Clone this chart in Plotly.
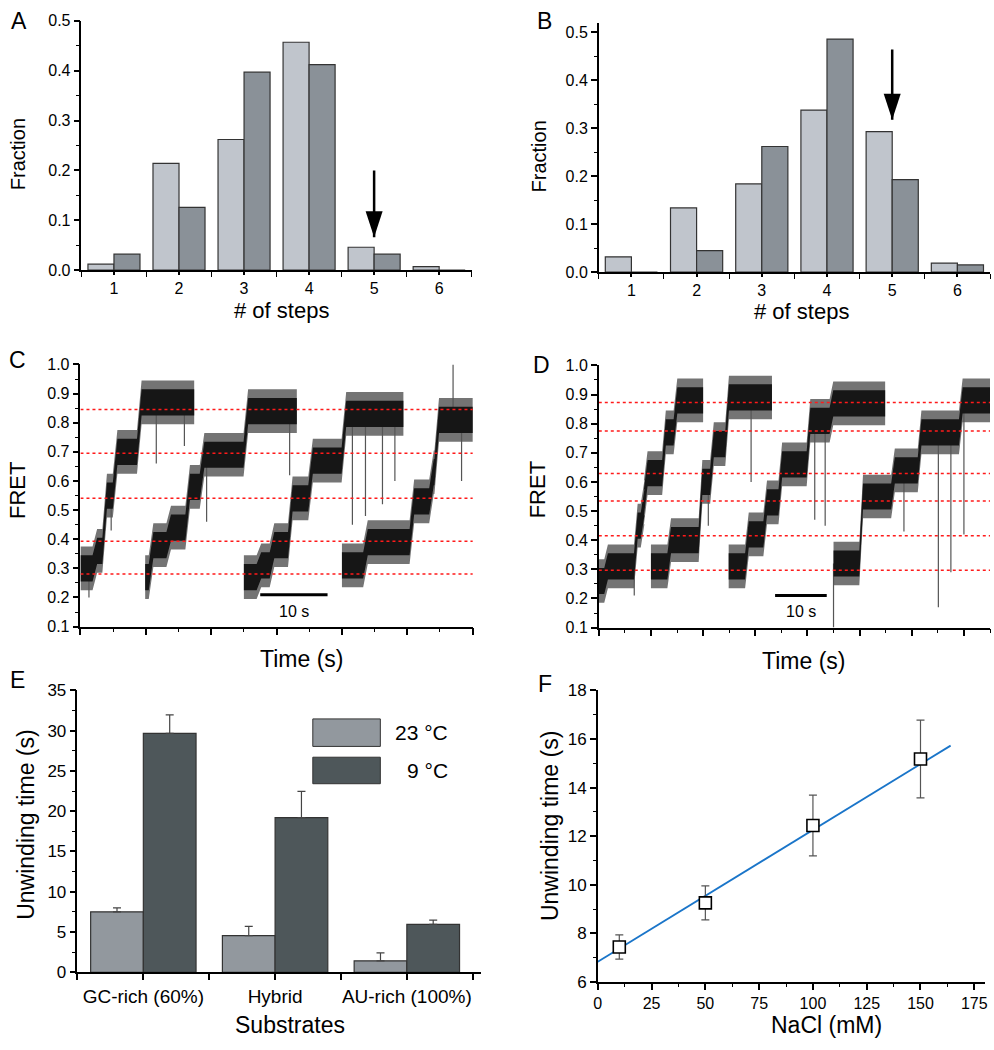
import plotly.graph_objects as go

W, H = 994, 1050
FONT = "Liberation Sans, Arial, sans-serif"

# ---------------- data ----------------
steps = [1, 2, 3, 4, 5, 6]
fracA_light = [0.012, 0.214, 0.262, 0.457, 0.046, 0.007]
fracA_dark = [0.032, 0.126, 0.397, 0.412, 0.032, 0.0]
fracB_light = [0.032, 0.134, 0.184, 0.338, 0.293, 0.019]
fracB_dark = [0.0, 0.045, 0.262, 0.486, 0.193, 0.015]
arrowA = (5, 0.20, 0.066)   # x, tail, tip
arrowB = (5, 0.464, 0.318)

# FRET traces: plateau edges (s) and FRET levels
C_edges = [[0, 2.2, 3.7, 5.3, 9.0, 17.4],
           [9.9, 10.8, 13.5, 16.4, 18.6, 25.3, 33.1],
           [25.0, 27.3, 29.3, 32.1, 35.2, 40.3, 49.4],
           [40.0, 43.6, 50.7, 53.7, 54.5, 60.2]]
C_levels = [[0.30, 0.36, 0.55, 0.70, 0.87],
            [0.27, 0.38, 0.44, 0.58, 0.69, 0.84],
            [0.27, 0.31, 0.38, 0.54, 0.67, 0.83],
            [0.31, 0.39, 0.53, 0.63, 0.81]]
C_spikes = [(0, 1.3, 0.20), (0, 4.7, 0.43), (0, 11.6, 0.66), (0, 15.9, 0.72),
            (1, 19.3, 0.46), (1, 32.0, 0.62),
            (2, 41.6, 0.45), (2, 43.6, 0.48), (2, 46.2, 0.52), (2, 48.1, 0.60),
            (3, 57.0, 1.0), (3, 58.3, 0.60)]
C_ref = [0.845, 0.695, 0.541, 0.393, 0.281]

D_edges = [[0, 1.4, 7.1, 8.4, 9.0, 12.5, 14.7, 20.0],
           [10.0, 13.5, 19.5, 21.7, 24.6, 33.2],
           [24.9, 28.4, 31.9, 34.8, 40.2, 44.6, 54.9],
           [45.0, 50.3, 56.4, 61.5, 69.4, 75.0]]
D_levels = [[0.26, 0.31, 0.45, 0.53, 0.63, 0.77, 0.88],
            [0.31, 0.40, 0.60, 0.73, 0.89],
            [0.31, 0.42, 0.53, 0.66, 0.81, 0.87],
            [0.32, 0.55, 0.64, 0.77, 0.88]]
D_spikes = [(0, 6.8, 0.21), (1, 21.0, 0.45), (1, 29.2, 0.60),
            (2, 41.4, 0.47), (2, 43.4, 0.45),
            (3, 45.0, 0.10), (3, 58.5, 0.43), (3, 65.1, 0.17), (3, 67.5, 0.29), (3, 70.0, 0.42)]
D_ref = [0.873, 0.775, 0.629, 0.535, 0.415, 0.297]

substrates = ["GC-rich (60%)", "Hybrid", "AU-rich (100%)"]
time23 = [7.5, 4.56, 1.42]
err23 = [0.5, 1.14, 0.98]
time9 = [29.67, 19.2, 5.94]
err9 = [2.3, 3.26, 0.53]

nacl = [10, 50, 100, 150]
unwind = [7.44, 9.26, 12.44, 15.18]
unwind_err = [0.5, 0.7, 1.25, 1.6]
fit_x = [0, 164]
fit_y = [6.84, 15.73]

# ---------------- helpers ----------------
def px(x):
    return x / W

def py(y):
    return 1 - y / H

LIGHT_A, DARK_A = "#c0c5cc", "#8a9198"
LIGHT_E, DARK_E = "#92989e", "#4e575a"

fig = go.Figure()

def axis_style(**kw):
    d = dict(showline=True, linecolor="black", linewidth=1.5, ticks="outside",
             ticklen=6, tickwidth=1.5, tickcolor="black", showgrid=False,
             zeroline=False, tickfont=dict(size=16, color="black", family=FONT),
             minor=dict(ticks="outside", ticklen=3.5, tickwidth=1.2,
                        tickcolor="black", showgrid=False))
    d.update(kw)
    return d

# Panel A / B bars
for (light, dark, xa, ya) in [(fracA_light, fracA_dark, "x", "y"),
                              (fracB_light, fracB_dark, "x2", "y2")]:
    fig.add_trace(go.Bar(x=steps, y=light, marker=dict(color=LIGHT_A, line=dict(color="#333", width=1.2)),
                         xaxis=xa, yaxis=ya, showlegend=False, offsetgroup="a"))
    fig.add_trace(go.Bar(x=steps, y=dark, marker=dict(color=DARK_A, line=dict(color="#333", width=1.2)),
                         xaxis=xa, yaxis=ya, showlegend=False, offsetgroup="b"))

# Panel C / D traces
def level_at(edges, levels, t):
    for i in range(len(levels)):
        if edges[i] <= t <= edges[i + 1]:
            return levels[i]
    return levels[-1]

def band(edges, levels, w, d=0.35):
    n = len(levels)
    up = [(edges[0], levels[0] + w)]
    lo = [(edges[0], levels[0] - w)]
    for i in range(1, n):
        up += [(edges[i] - d, levels[i - 1] + w), (edges[i] + d, levels[i] + w)]
        lo += [(edges[i] - d, levels[i - 1] - w), (edges[i] + d, levels[i] - w)]
    up.append((edges[-1], levels[-1] + w))
    lo.append((edges[-1], levels[-1] - w))
    pts = up + lo[::-1]
    return [p[0] for p in pts], [p[1] for p in pts]

for (E, Lv, S, ref, xa, ya, xmax) in [(C_edges, C_levels, C_spikes, C_ref, "x3", "y3", 60.5),
                                      (D_edges, D_levels, D_spikes, D_ref, "x4", "y4", 75)]:
    for e, l in zip(E, Lv):
        bx, by = band(e, l, 0.075)
        fig.add_trace(go.Scatter(x=bx, y=by, fill="toself", fillcolor="#747474", mode="lines",
                                 line=dict(width=0), xaxis=xa, yaxis=ya, showlegend=False, hoverinfo="skip"))
    sx, sy = [], []
    for (k, t, yend) in S:
        sx += [t, t, None]
        sy += [level_at(E[k], Lv[k], t), yend, None]
    fig.add_trace(go.Scatter(x=sx, y=sy, mode="lines", line=dict(color="#555", width=1.2),
                             xaxis=xa, yaxis=ya, showlegend=False, hoverinfo="skip"))
    for e, l in zip(E, Lv):
        bx, by = band(e, l, 0.045)
        fig.add_trace(go.Scatter(x=bx, y=by, fill="toself", fillcolor="#161616", mode="lines",
                                 line=dict(width=0), xaxis=xa, yaxis=ya, showlegend=False, hoverinfo="skip"))
    for r in ref:
        fig.add_trace(go.Scatter(x=[0, xmax], y=[r, r], mode="lines",
                                 line=dict(color="#ff1a1a", width=1.5, dash="dot"),
                                 xaxis=xa, yaxis=ya, showlegend=False, hoverinfo="skip"))

# Panel E
xpos = [0, 1, 2]
fig.add_trace(go.Bar(x=xpos, y=time23, name="23 °C", marker=dict(color=LIGHT_E, line=dict(color="#333", width=1.2)),
                     error_y=dict(type="data", symmetric=False, array=err23, arrayminus=[0] * 3,
                                  color="#444", thickness=1.2, width=4),
                     xaxis="x5", yaxis="y5", showlegend=False, offsetgroup="a"))
fig.add_trace(go.Bar(x=xpos, y=time9, name="9 °C", marker=dict(color=DARK_E, line=dict(color="#333", width=1.2)),
                     error_y=dict(type="data", symmetric=False, array=err9, arrayminus=[0] * 3,
                                  color="#444", thickness=1.2, width=4),
                     xaxis="x5", yaxis="y5", showlegend=False, offsetgroup="b"))

# Panel F
fig.add_trace(go.Scatter(x=fit_x, y=fit_y, mode="lines", line=dict(color="#1a75c9", width=1.8),
                         xaxis="x6", yaxis="y6", showlegend=False))
fig.add_trace(go.Scatter(x=nacl, y=unwind, mode="markers",
                         marker=dict(symbol="square", size=12, color="white", line=dict(color="black", width=1.6)),
                         error_y=dict(type="data", array=unwind_err, color="#555", thickness=1.2, width=4),
                         xaxis="x6", yaxis="y6", showlegend=False))

# ---------------- layout ----------------
dom = {
    "A": ([px(78), px(471)], [py(266), py(12)]),
    "B": ([px(599), px(993)], [py(268), py(14)]),
    "C": ([px(77), px(472)], [py(629), py(362)]),
    "D": ([px(599), px(993)], [py(630), py(363)]),
    "E": ([px(74), px(480)], [py(981), py(694)]),
    "F": ([px(598), px(988)], [py(991), py(694)]),
}

bar_x = dict(range=[0.5, 6.5], tickvals=steps, ticklen=3,
             minor=dict(ticks="outside", ticklen=5, tickwidth=1.2, tickcolor="black",
                        tick0=0.5, dtick=1, showgrid=False))

fig.update_layout(
    width=W, height=H, margin=dict(l=0, r=0, t=0, b=0),
    paper_bgcolor="white", plot_bgcolor="white",
    font=dict(family=FONT, color="black"),
    barmode="group", bargap=0.2, bargroupgap=0,
    xaxis=axis_style(domain=dom["A"][0], anchor="y", **bar_x),
    yaxis=axis_style(domain=dom["A"][1], anchor="x", range=[0, 0.5], dtick=0.1, tickformat=".1f",
                     minor=dict(ticks="outside", ticklen=3.5, tickwidth=1.2, tickcolor="black", dtick=0.05)),
    xaxis2=axis_style(domain=dom["B"][0], anchor="y2", **bar_x),
    yaxis2=axis_style(domain=dom["B"][1], anchor="x2", range=[0, 0.52], dtick=0.1, tickformat=".1f",
                      minor=dict(ticks="outside", ticklen=3.5, tickwidth=1.2, tickcolor="black", dtick=0.05)),
    xaxis3=axis_style(domain=dom["C"][0], anchor="y3", range=[0, 60], dtick=10, showticklabels=False,
                      ticklen=7, minor=dict(ticks="outside", ticklen=4, tickwidth=1.2, tickcolor="black", dtick=5)),
    yaxis3=axis_style(domain=dom["C"][1], anchor="x3", range=[0.1, 1.0], dtick=0.1, tickformat=".1f",
                      minor=dict(ticks="outside", ticklen=3.5, tickwidth=1.2, tickcolor="black", dtick=0.05)),
    xaxis4=axis_style(domain=dom["D"][0], anchor="y4", range=[0, 75], dtick=10, showticklabels=False,
                      ticklen=7, minor=dict(ticks="outside", ticklen=4, tickwidth=1.2, tickcolor="black", dtick=5)),
    yaxis4=axis_style(domain=dom["D"][1], anchor="x4", range=[0.1, 1.0], dtick=0.1, tickformat=".1f",
                      minor=dict(ticks="outside", ticklen=3.5, tickwidth=1.2, tickcolor="black", dtick=0.05)),
    xaxis5=axis_style(domain=dom["E"][0], anchor="y5", range=[-0.5, 2.56], tickvals=xpos, ticktext=substrates,
                      tickfont=dict(size=19, color="black", family=FONT),
                      minor=dict(ticks="outside", ticklen=6, tickwidth=1.5, tickcolor="black",
                                 tick0=0.5, dtick=1, showgrid=False)),
    yaxis5=axis_style(domain=dom["E"][1], anchor="x5", range=[0, 35], dtick=5,
                      tickfont=dict(size=17, color="black", family=FONT),
                      minor=dict(ticks="outside", ticklen=3.5, tickwidth=1.2, tickcolor="black", dtick=2.5)),
    xaxis6=axis_style(domain=dom["F"][0], anchor="y6", range=[0, 180], dtick=25,
                      tickfont=dict(size=16, color="black", family=FONT),
                      minor=dict(ticks="outside", ticklen=3.5, tickwidth=1.2, tickcolor="black", dtick=12.5)),
    yaxis6=axis_style(domain=dom["F"][1], anchor="x6", range=[6, 18], dtick=2,
                      tickfont=dict(size=17, color="black", family=FONT),
                      minor=dict(ticks="outside", ticklen=3.5, tickwidth=1.2, tickcolor="black", dtick=1)),
)

shapes = []
for (ax, xr, yr) in [(arrowA, "x", "y"), (arrowB, "x2", "y2")]:
    x, tail, tip = ax
    shapes.append(dict(type="line", xref=xr, yref=yr, x0=x, x1=x, y0=tail, y1=tip,
                       line=dict(color="black", width=2.5)))
    shapes.append(dict(type="path", xref=xr, yref=yr, xsizemode="pixel", ysizemode="pixel",
                       xanchor=x, yanchor=tip, path="M-8.5,26 L8.5,26 L0,0 Z",
                       fillcolor="black", line=dict(width=0)))
# scale bars
shapes.append(dict(type="line", xref="x3", yref="y3", x0=27.5, x1=37.8, y0=0.209, y1=0.209,
                   line=dict(color="black", width=3)))
shapes.append(dict(type="line", xref="x4", yref="y4", x0=33.8, x1=43.7, y0=0.21, y1=0.21,
                   line=dict(color="black", width=3)))
# legend boxes E
shapes.append(dict(type="rect", xref="paper", yref="paper", x0=px(311), x1=px(379), y0=py(751), y1=py(723),
                   fillcolor=LIGHT_E, line=dict(color="#333", width=1)))
shapes.append(dict(type="rect", xref="paper", yref="paper", x0=px(311), x1=px(379), y0=py(789), y1=py(762),
                   fillcolor=DARK_E, line=dict(color="#333", width=1)))
fig.update_layout(shapes=shapes)

ann = []
def txt(t, x, y, size, angle=0, xanchor="center"):
    ann.append(dict(text=t, x=px(x), y=py(y), xref="paper", yref="paper", showarrow=False,
                    font=dict(size=size, color="black", family=FONT), textangle=angle,
                    xanchor=xanchor, yanchor="middle"))

for (t, x, y) in [("A", 15, 12), ("B", 544, 12), ("C", 14, 357), ("D", 541, 363), ("E", 14, 683), ("F", 545, 687)]:
    txt(t, x, y, 23)
txt("Fraction", 14, 148, 20, -90)
txt("Fraction", 539, 150, 20, -90)
txt("# of steps", 279, 307, 22)
txt("# of steps", 803, 308, 22)
txt("FRET", 13, 490, 22, -90)
txt("FRET", 537, 490, 22, -90)
txt("Time (s)", 300, 662, 23)
txt("Time (s)", 805, 664, 23)
txt("Unwinding time (s)", 22, 831, 23, -90)
txt("Unwinding time (s)", 550, 832, 23, -90)
txt("Substrates", 288, 1035, 23)
txt("NaCl (mM)", 828, 1035, 23)
txt("23 °C", 449, 737, 21, xanchor="right")
txt("9 °C", 449, 776, 21, xanchor="right")
ann.append(dict(text="10 s", x=32.6, y=0.153, xref="x3", yref="y3", showarrow=False,
                font=dict(size=16, color="black", family=FONT)))
ann.append(dict(text="10 s", x=38.8, y=0.156, xref="x4", yref="y4", showarrow=False,
                font=dict(size=16, color="black", family=FONT)))
fig.update_layout(annotations=ann)

fig.write_html("out.html", config={"displayModeBar": False},
               post_script="document.body.style.margin='0px';document.body.style.overflow='hidden';")
